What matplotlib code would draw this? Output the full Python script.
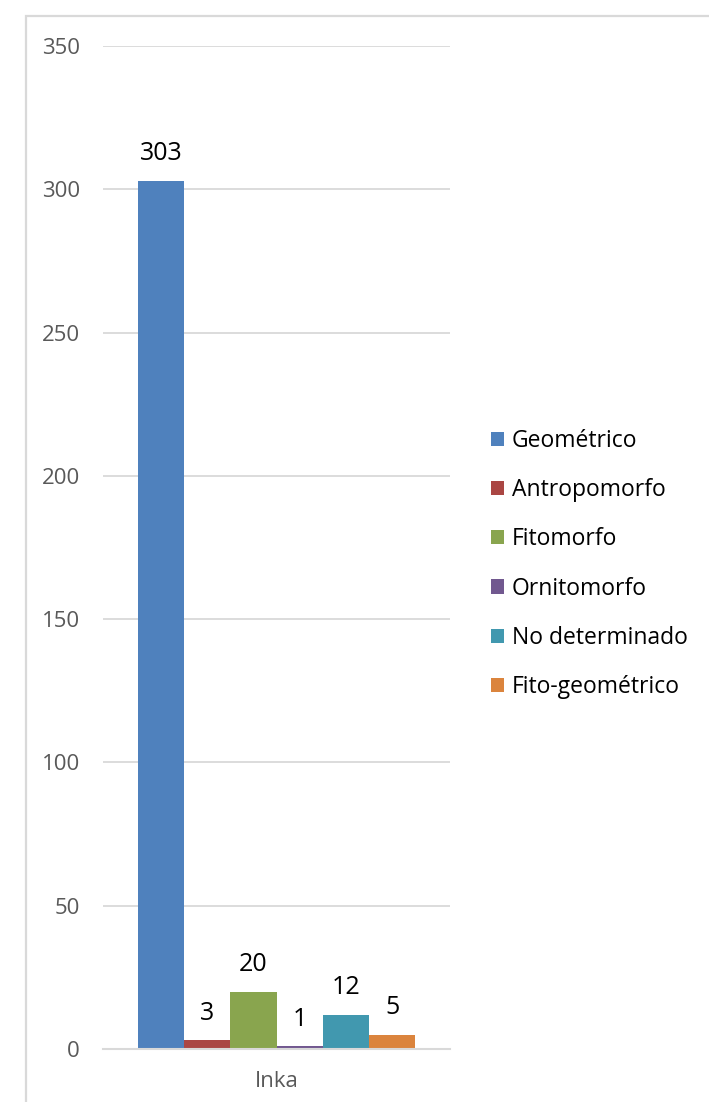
import matplotlib
matplotlib.use("Agg")
import matplotlib.pyplot as plt
from matplotlib.patches import Rectangle, Patch

categories = ["Geométrico", "Antropomorfo", "Fitomorfo", "Ornitomorfo", "No determinado", "Fito-geométrico"]
values = [303, 3, 20, 1, 12, 5]
colors = ["#4F81BD", "#AA4643", "#89A54E", "#71588F", "#4198AF", "#DB843D"]
group_label = "Inka"
yticks = [0, 50, 100, 150, 200, 250, 300, 350]

plt.rcParams['font.family'] = ['Open Sans', 'DejaVu Sans']

W, H = 709, 1102
fig = plt.figure(figsize=(W/100, H/100), dpi=100)
fig.patch.set_facecolor("white")

# outer chart border
fig.patches.append(Rectangle((26/W, -0.05), 1.2, 1 - 16/H + 0.05, transform=fig.transFigure,
                             fill=False, edgecolor="#D9D9D9", linewidth=1.6, zorder=0))

ax = fig.add_axes([103/W, 1 - 1049/H, (450-103)/W, (1049-46)/H])
n = len(values)
group_w = 0.8
bw = group_w / n
for i, (c, v, col) in enumerate(zip(categories, values, colors)):
    x = -group_w/2 + (i + 0.5) * bw
    ax.bar(x, v, width=bw, color=col, label=c, zorder=2, linewidth=0)
    ax.annotate(str(v), (x, v), xytext=(0, 19.5), textcoords="offset points",
                ha="center", va="center", fontsize=18, color="black")

ax.set_xlim(-0.5, 0.5)
ax.set_ylim(0, 350)
ax.set_yticks(yticks)
ax.set_xticks([0])
ax.set_xticklabels([group_label])
ax.grid(axis="y", color="#D9D9D9", linewidth=1.3, zorder=0)
ax.set_axisbelow(True)
for s in ["top", "right", "left"]:
    ax.spines[s].set_visible(False)
ax.spines["bottom"].set_color("#D9D9D9")
ax.spines["bottom"].set_linewidth(1.5)
ax.tick_params(axis="y", length=0, pad=16.5, labelsize=16, labelcolor="#595959")
ax.tick_params(axis="x", length=0, pad=16, labelsize=16, labelcolor="#595959")

handles = [Patch(facecolor=col, edgecolor="none") for col in colors]
leg = fig.legend(handles, categories, loc="center left", bbox_to_anchor=(491/W, 1 - 564/H),
                 frameon=False, fontsize=16.5, handlelength=0.57, handleheight=0.57,
                 handletextpad=0.35, labelspacing=1.1, borderpad=0, borderaxespad=0)

fig.savefig("out.png", dpi=100)
